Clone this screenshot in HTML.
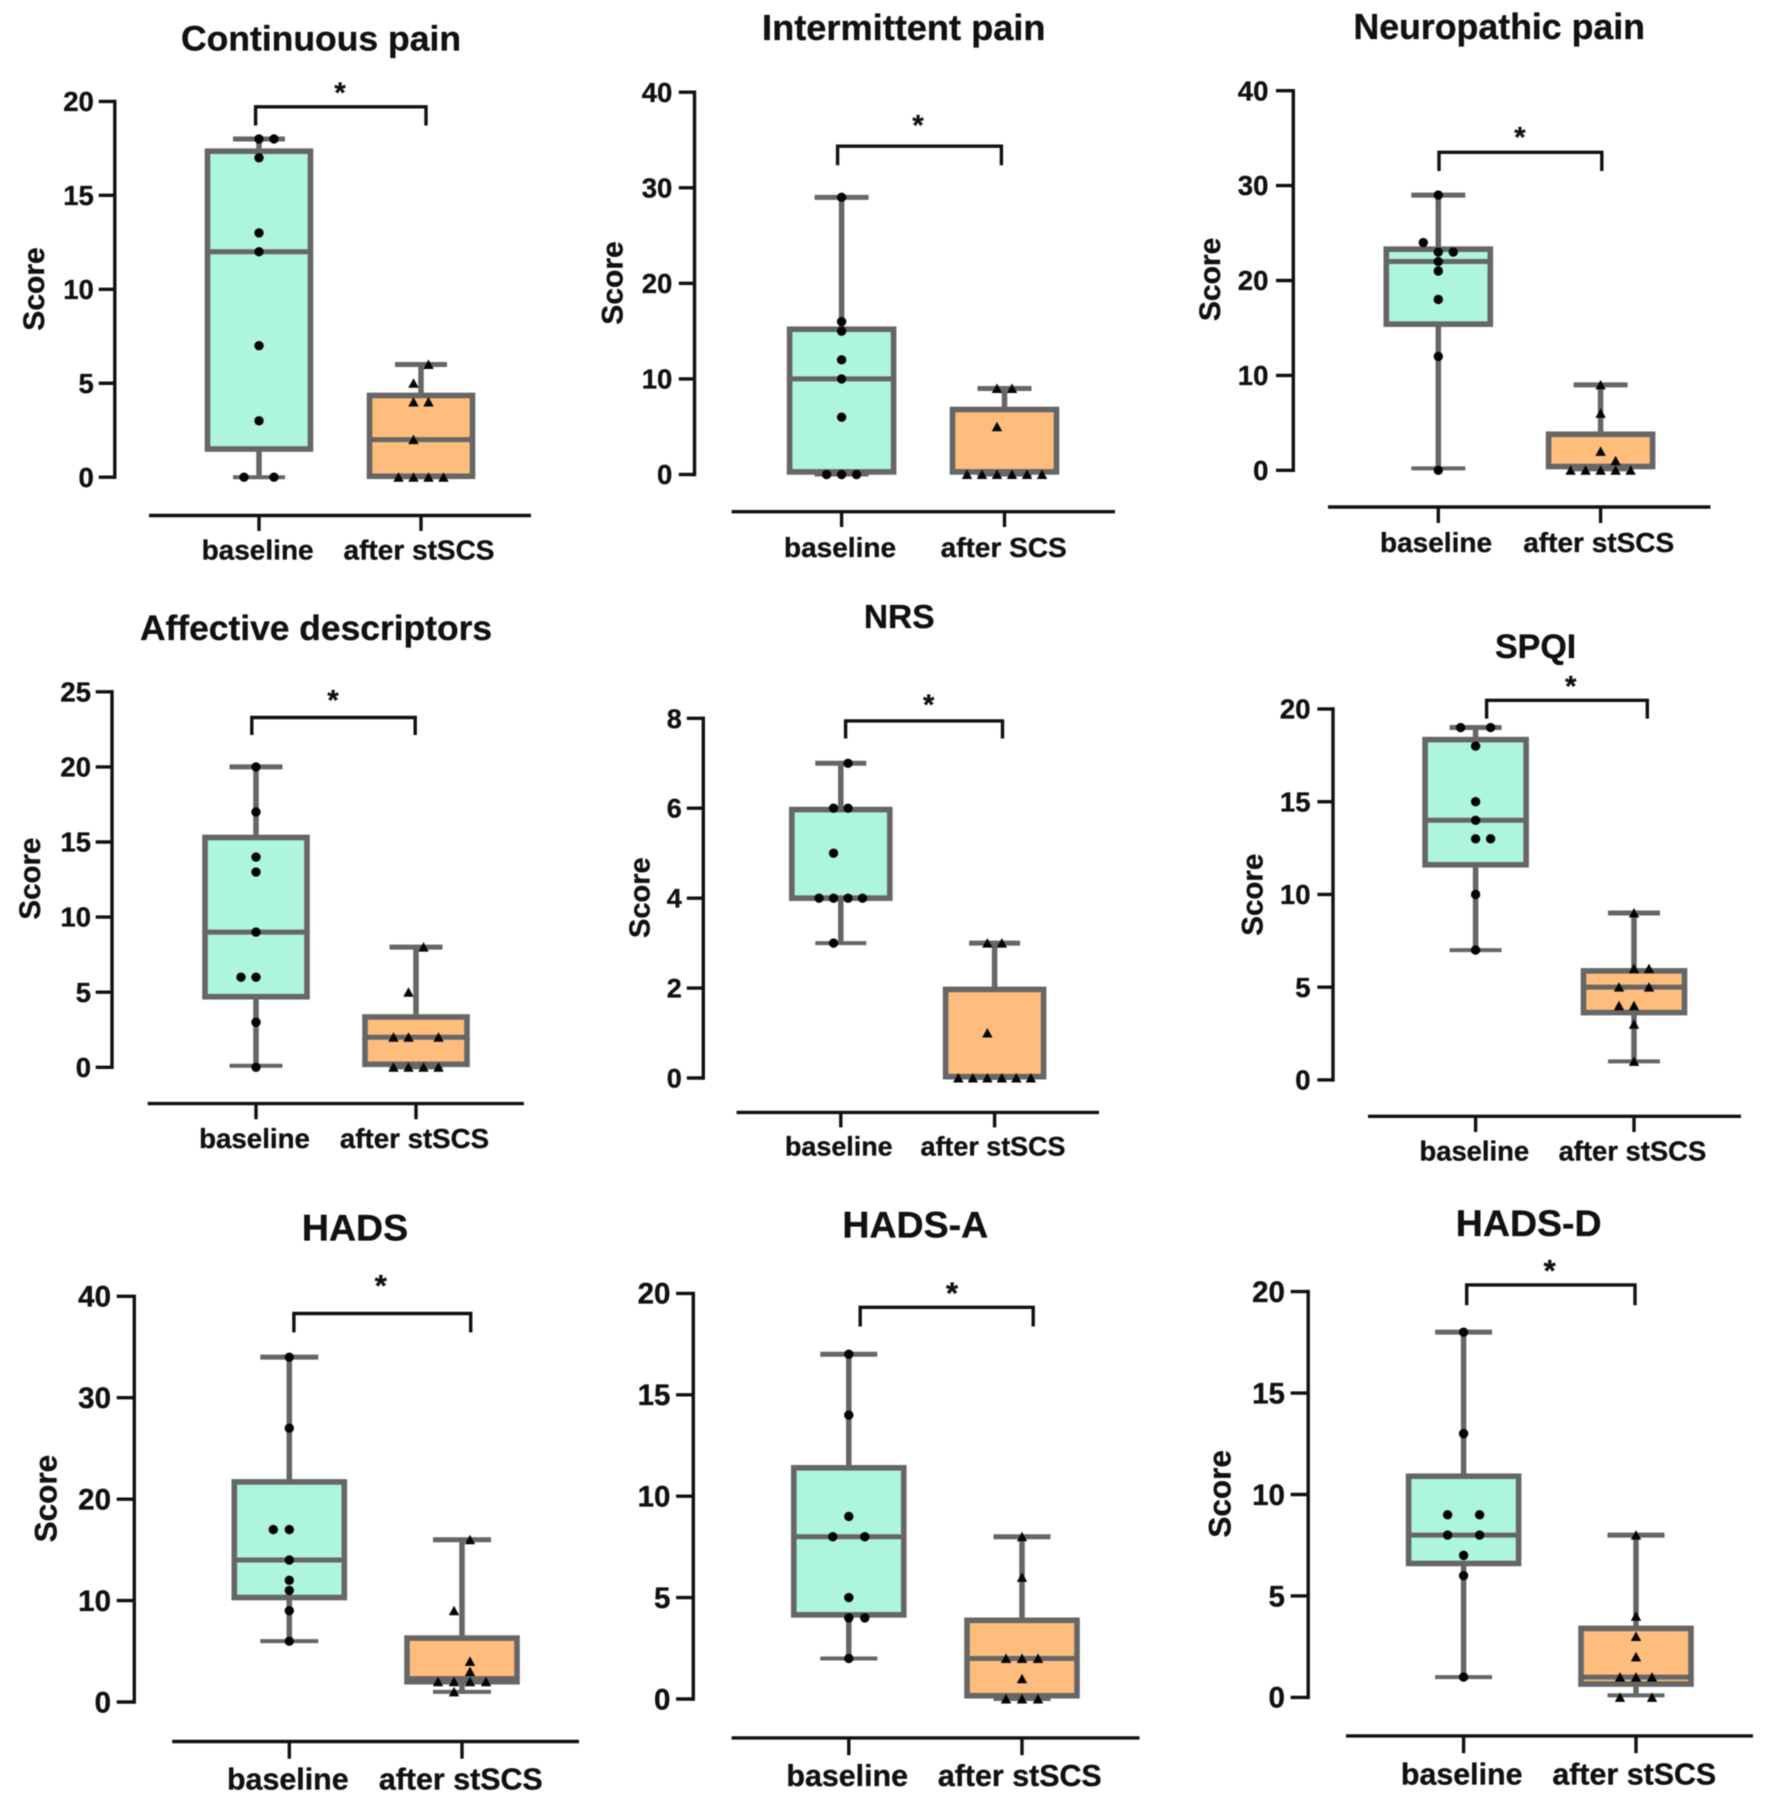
<!DOCTYPE html>
<html lang="en">
<head>
<meta charset="utf-8">
<title>Pain and mood scores at baseline and after stSCS</title>
<style>
  html, body { margin: 0; padding: 0; background: #fff; }
  #figure { display: block; width: 1772px; height: 1816px; filter: blur(0.45px); }
  text { font-family: "Liberation Sans", Arial, sans-serif; font-weight: bold; fill: #111; stroke: #111; stroke-width: 0.35px; }
</style>
</head>
<body>
<svg id="figure" xmlns="http://www.w3.org/2000/svg" width="1772" height="1816" viewBox="0 0 1772 1816">
  <rect x="0" y="0" width="1772" height="1816" fill="#ffffff"/>

  <g id="panel-0">
    <text x="321" y="50.5" font-size="35.5" text-anchor="middle">Continuous pain</text>
    <text transform="translate(44 289) rotate(-90)" font-size="30" text-anchor="middle">Score</text>
    <text x="340" y="102.5" font-size="29" text-anchor="middle">*</text>
  </g>
  <g id="panel-1">
    <text x="903.8" y="39.9" font-size="36.2" text-anchor="middle">Intermittent pain</text>
    <text transform="translate(622.5 283) rotate(-90)" font-size="30" text-anchor="middle">Score</text>
    <text x="918" y="135" font-size="29" text-anchor="middle">*</text>
  </g>
  <g id="panel-2">
    <text x="1499.2" y="38.8" font-size="35.7" text-anchor="middle">Neuropathic pain</text>
    <text transform="translate(1219.8 279.4) rotate(-90)" font-size="30" text-anchor="middle">Score</text>
    <text x="1519.9" y="147.2" font-size="29" text-anchor="middle">*</text>
  </g>
  <g id="panel-3">
    <text x="316" y="639.9" font-size="35.4" text-anchor="middle">Affective descriptors</text>
    <text transform="translate(40.2 878.6) rotate(-90)" font-size="29.5" text-anchor="middle">Score</text>
    <text x="333" y="710.1" font-size="29" text-anchor="middle">*</text>
  </g>
  <g id="panel-4">
    <text x="899.2" y="628" font-size="33.5" text-anchor="middle">NRS</text>
    <text transform="translate(649.3 897.7) rotate(-90)" font-size="29" text-anchor="middle">Score</text>
    <text x="928.7" y="714.7" font-size="29" text-anchor="middle">*</text>
  </g>
  <g id="panel-5">
    <text x="1535.6" y="657.9" font-size="34" text-anchor="middle">SPQI</text>
    <text transform="translate(1262.7 894.7) rotate(-90)" font-size="29.5" text-anchor="middle">Score</text>
    <text x="1570.8" y="695.9" font-size="29" text-anchor="middle">*</text>
  </g>
  <g id="panel-6">
    <text x="355" y="1240.5" font-size="37.5" text-anchor="middle">HADS</text>
    <text transform="translate(56.3 1498.6) rotate(-90)" font-size="31.5" text-anchor="middle">Score</text>
    <text x="380.8" y="1296" font-size="31" text-anchor="middle">*</text>
  </g>
  <g id="panel-7">
    <text x="915.3" y="1237.4" font-size="37.5" text-anchor="middle">HADS-A</text>
    <text x="952" y="1303.3" font-size="31" text-anchor="middle">*</text>
  </g>
  <g id="panel-8">
    <text x="1528.7" y="1236.1" font-size="37.5" text-anchor="middle">HADS-D</text>
    <text transform="translate(1230.6 1493.9) rotate(-90)" font-size="31.5" text-anchor="middle">Score</text>
    <text x="1549.7" y="1281.2" font-size="31" text-anchor="middle">*</text>
  </g>
</svg>

<script>
// ---- chart data (one entry per panel, left-to-right, top-to-bottom) ----
const yTicks = [
  [0, 5, 10, 15, 20],
  [0, 10, 20, 30, 40],
  [0, 10, 20, 30, 40],
  [0, 5, 10, 15, 20, 25],
  [0, 2, 4, 6, 8],
  [0, 5, 10, 15, 20],
  [0, 10, 20, 30, 40],
  [0, 5, 10, 15, 20],
  [0, 5, 10, 15, 20]
];
const categories = [
  ['baseline', 'after stSCS'],
  ['baseline', 'after SCS'],
  ['baseline', 'after stSCS'],
  ['baseline', 'after stSCS'],
  ['baseline', 'after stSCS'],
  ['baseline', 'after stSCS'],
  ['baseline', 'after stSCS'],
  ['baseline', 'after stSCS'],
  ['baseline', 'after stSCS']
];
// five-number summaries: min, q1, median, q3, max
const baselineBox = [
  [0, 1.5, 12, 17.35, 18],
  [0, 0.27, 10, 15.2, 29],
  [0.2, 15.4, 22, 23.3, 29],
  [0.1, 4.7, 9, 15.3, 20],
  [3, 4, 4, 5.97, 7],
  [7, 11.6, 14, 18.35, 19],
  [6, 10.3, 14, 21.7, 34],
  [2, 4.15, 8, 11.4, 17],
  [1, 6.6, 8, 10.9, 18]
];
const afterBox = [
  [0, 0.05, 2, 4.35, 6],
  [0, 0.27, 0.27, 6.8, 9],
  [0.1, 0.4, 0.4, 3.8, 9],
  [0, 0.2, 2, 3.35, 8],
  [0, 0.03, 0.03, 1.97, 3],
  [1, 3.63, 5, 5.88, 9],
  [1, 2, 2.3, 6.3, 16],
  [0, 0.16, 2, 3.88, 8],
  [0.1, 0.66, 1, 3.4, 8]
];
// individual subjects
const baselineValues = [
  [18, 18, 17, 13, 12, 7, 3, 0, 0],
  [29, 16, 15, 12, 10, 6, 0, 0, 0],
  [29, 24, 23, 23, 22, 21, 18, 12, 0],
  [20, 17, 14, 13, 9, 6, 6, 3, 0],
  [7, 6, 6, 5, 4, 4, 4, 4, 3],
  [19, 19, 18, 15, 14, 13, 13, 10, 7],
  [34, 27, 17, 17, 14, 12, 11, 9, 6],
  [17, 14, 9, 8, 8, 5, 4, 4, 2],
  [18, 13, 9, 9, 8, 8, 7, 6, 1]
];
const afterValues = [
  [6, 5, 4, 4, 2, 0, 0, 0, 0],
  [9, 9, 5, 0, 0, 0, 0, 0, 0],
  [9, 6, 2, 1, 0, 0, 0, 0, 0],
  [8, 5, 2, 2, 2, 0, 0, 0, 0],
  [3, 3, 1, 0, 0, 0, 0, 0, 0],
  [9, 6, 6, 5, 5, 4, 4, 3, 1],
  [16, 9, 4, 3, 2, 2, 2, 2, 1],
  [8, 6, 2, 2, 2, 1, 0, 0, 0],
  [8, 4, 3, 2, 1, 1, 1, 0, 0]
];
// beeswarm column of each subject, in marker widths from the box centre
const baselineColumns = [
  [0, 1, 0, 0, 0, 0, 0, -1, 1],
  [0, 0, 0, 0, 0, 0, -1, 0, 1],
  [0, -1, 0, 1, 0, 0, 0, 0, 0],
  [0, 0, 0, 0, 0, -1, 0, 0, 0],
  [0.5, -0.5, 0.5, -0.5, -1.5, -0.5, 0.5, 1.5, -0.5],
  [-1, 1, 0, 0, 0, 0, 1, 0, 0],
  [0, 0, -1, 0, 0, 0, 0, 0, 0],
  [0, 0, 0, -1, 1, 0, 0, 1, 0],
  [0, 0, -1, 1, -1, 1, 0, 0, 0]
];
const afterColumns = [
  [0.5, -0.5, -0.5, 0.5, -0.5, -1.5, -0.5, 0.5, 1.5],
  [-0.5, 0.5, -0.5, -2.5, -1.5, -0.5, 0.5, 1.5, 2.5],
  [0, 0, 0, 1, -2, -1, 0, 1, 2],
  [0.5, -0.5, -1.5, -0.5, 1.5, -1.5, -0.5, 0.5, 1.5],
  [-0.5, 0.5, -0.5, -2.5, -1.5, -0.5, 0.5, 1.5, 2.5],
  [0, 0, 1, -1, 1, -1, 0, 0, 0],
  [0.5, -0.5, 0.5, 0.5, -1.5, -0.5, 0.5, 1.5, -0.5],
  [0, 0, -1, 0, 1, 0, -1, 0, 1],
  [0, 0, 0, 0, -1, 0, 1, -1, 1]
];

// ---- layout (panel geometry, not data) ----
const panelLayouts = [
  { axisX: 114.8, yTop: 101.4, yZero: 477.2, tickLeft: 98.7, tickRight: 93.8, tickFont: 27.5, floorY: 515.5, floorL: 149, floorR: 531, c1: 259, c2: 421, floorTick: 531, boxW: 103, capW: 52, step: 15, brL: 255.6, brR: 426, brTop: 106.8, brBot: 125.5, labelY: 559.5, l1: 257.6, l2: 419, labelFont: 28 },
  { axisX: 694.5, yTop: 92.2, yZero: 474.5, tickLeft: 678.8, tickRight: 672.3, tickFont: 27.5, floorY: 511.7, floorL: 731.6, floorR: 1115, c1: 841.6, c2: 1004.5, floorTick: 527, boxW: 104, capW: 54, step: 15, brL: 837.6, brR: 1001.4, brTop: 146.2, brBot: 165.3, labelY: 556.8, l1: 840, l2: 1003.7, labelFont: 28 },
  { axisX: 1293.3, yTop: 90.7, yZero: 470.3, tickLeft: 1276, tickRight: 1268.4, tickFont: 27.5, floorY: 507, floorL: 1328, floorR: 1710.5, c1: 1438.3, c2: 1600.6, floorTick: 523, boxW: 104, capW: 54, step: 15, brL: 1439, brR: 1601.8, brTop: 152.3, brBot: 171, labelY: 552.2, l1: 1436, l2: 1598.7, labelFont: 28 },
  { axisX: 112, yTop: 691.8, yZero: 1067.3, tickLeft: 95.7, tickRight: 91, tickFont: 27.5, floorY: 1103.6, floorL: 147.7, floorR: 523.9, c1: 256, c2: 416, floorTick: 1119.3, boxW: 102, capW: 53, step: 15, brL: 251.8, brR: 415.2, brTop: 717.5, brBot: 735, labelY: 1148, l1: 254.5, l2: 414.5, labelFont: 27.7 },
  { axisX: 703.3, yTop: 718.3, yZero: 1078, tickLeft: 686.8, tickRight: 681.8, tickFont: 27, floorY: 1112.4, floorL: 736.6, floorR: 1099, c1: 840.8, c2: 994.6, floorTick: 1127.4, boxW: 98, capW: 51, step: 14.5, brL: 845.6, brR: 1002.5, brTop: 720.9, brBot: 738.5, labelY: 1155.7, l1: 838.8, l2: 993, labelFont: 26.9 },
  { axisX: 1333, yTop: 709, yZero: 1079.9, tickLeft: 1317.4, tickRight: 1310.5, tickFont: 27.5, floorY: 1116.3, floorL: 1368, floorR: 1741, c1: 1475.6, c2: 1634, floorTick: 1132, boxW: 101, capW: 52, step: 15, brL: 1486.6, brR: 1647.3, brTop: 700.3, brBot: 718.6, labelY: 1160.6, l1: 1474.3, l2: 1632.4, labelFont: 27.4 },
  { axisX: 134.3, yTop: 1296.3, yZero: 1702, tickLeft: 116.7, tickRight: 111, tickFont: 29.5, floorY: 1741.5, floorL: 172.2, floorR: 579, c1: 289.3, c2: 462, floorTick: 1758.7, boxW: 110, capW: 58, step: 16, brL: 293.9, brR: 470.7, brTop: 1313.5, brBot: 1332.4, labelY: 1789.3, l1: 287.8, l2: 460.8, labelFont: 30.4 },
  { axisX: 693.3, yTop: 1293.4, yZero: 1699, tickLeft: 676.1, tickRight: 670.4, tickFont: 29.5, floorY: 1737.9, floorL: 731.6, floorR: 1139.5, c1: 848.8, c2: 1022, floorTick: 1755.2, boxW: 110, capW: 57, step: 16, brL: 860.2, brR: 1033.2, brTop: 1307.3, brBot: 1326.5, labelY: 1786.2, l1: 847.2, l2: 1019.8, labelFont: 30.4 },
  { axisX: 1308.2, yTop: 1291.6, yZero: 1697.4, tickLeft: 1290.6, tickRight: 1284.9, tickFont: 29.5, floorY: 1735.9, floorL: 1346, floorR: 1753, c1: 1463.6, c2: 1636, floorTick: 1753.2, boxW: 110, capW: 57, step: 16, brL: 1466.7, brR: 1635, brTop: 1284.9, brBot: 1305.3, labelY: 1784.7, l1: 1461.7, l2: 1634.3, labelFont: 30.4 }
];

const SVG_NS = 'http://www.w3.org/2000/svg';
const INK = '#111111';
const BOX_GREY = '#666666';
const MINT = '#aef5de';
const ORANGE = '#febd7c';

function svgEl(parent, tag, props) {
  const node = document.createElementNS(SVG_NS, tag);
  Object.keys(props).forEach(function (k) { node.setAttribute(k, props[k]); });
  parent.appendChild(node);
  return node;
}

function yScale(layout, ticks) {
  const yMax = ticks[ticks.length - 1];
  return function (v) { return layout.yZero - (v / yMax) * (layout.yZero - layout.yTop); };
}

function drawAxes(group, layout, ticks, labels, y) {
  const axis = svgEl(group, 'line', { x1: layout.axisX, x2: layout.axisX, y1: layout.yTop - 1.7, y2: layout.yZero + 1.7, stroke: INK, 'stroke-width': 3.4 });
  
  
  ticks.forEach(function (t) {
    const tick = svgEl(group, 'line', { x1: layout.tickLeft, x2: layout.axisX, y1: y(t), y2: y(t), stroke: INK, 'stroke-width': 3.4 });
    
    
    const label = svgEl(group, 'text', { x: layout.tickRight, y: y(t) + layout.tickFont * 0.35, 'font-size': layout.tickFont, 'text-anchor': 'end' });
    label.textContent = String(t);
    
    
  });
  const floor = svgEl(group, 'line', { x1: layout.floorL, x2: layout.floorR, y1: layout.floorY, y2: layout.floorY, stroke: INK, 'stroke-width': 3.4 });
  
  
  [layout.c1, layout.c2].forEach(function (cx, i) {
    const tick = svgEl(group, 'line', { x1: cx, x2: cx, y1: layout.floorY, y2: layout.floorTick, stroke: INK, 'stroke-width': 3.4 });
    
    
    const label = svgEl(group, 'text', { x: i === 0 ? layout.l1 : layout.l2, y: layout.labelY, 'font-size': layout.labelFont, 'text-anchor': 'middle' });
    label.textContent = labels[i];
    
    
  });
}

function drawBox(group, layout, cx, stats, fill, y, seriesName) {
  const half = layout.boxW / 2;
  const capHalf = layout.capW / 2;
  const low = stats[0], q1 = stats[1], med = stats[2], q3 = stats[3], high = stats[4];

  const upper = svgEl(group, 'line', { x1: cx, x2: cx, y1: y(q3), y2: y(high), stroke: BOX_GREY, 'stroke-width': 5.5 });
  
  
  const lower = svgEl(group, 'line', { x1: cx, x2: cx, y1: y(q1), y2: y(low), stroke: BOX_GREY, 'stroke-width': 5.5 });
  
  
  const capTop = svgEl(group, 'line', { x1: cx - capHalf, x2: cx + capHalf, y1: y(high), y2: y(high), stroke: BOX_GREY, 'stroke-width': 5 });
  
  
  const capBottom = svgEl(group, 'line', { x1: cx - capHalf, x2: cx + capHalf, y1: y(low), y2: y(low), stroke: BOX_GREY, 'stroke-width': 4 });
  
  
  const box = svgEl(group, 'rect', { x: cx - half, width: layout.boxW, y: y(q3), height: y(q1) - y(q3), fill: fill, stroke: BOX_GREY, 'stroke-width': 5.6 });
  
  
  const median = svgEl(group, 'line', { x1: cx - half, x2: cx + half, y1: y(med), y2: y(med), stroke: BOX_GREY, 'stroke-width': 5 });
  
  
}

function drawCircles(group, layout, cx, values, columns, y) {
  values.forEach(function (v, i) {
    const dot = svgEl(group, 'circle', { cx: cx + columns[i] * layout.step, cy: y(v), r: 4.7, fill: '#050505' });
    
    
  });
}

function drawTriangles(group, layout, cx, values, columns, y) {
  values.forEach(function (v, i) {
    const px = cx + columns[i] * layout.step;
    const py = y(v);
    const tri = svgEl(group, 'polygon', { points: (px - 5.2) + ',' + (py + 4.5) + ' ' + (px + 5.2) + ',' + (py + 4.5) + ' ' + px + ',' + (py - 5), fill: '#050505' });
    
    
  });
}

function drawBracket(group, layout) {
  const path = 'M' + layout.brL + ' ' + layout.brBot + 'V' + layout.brTop + 'H' + layout.brR + 'V' + layout.brBot;
  const bracket = svgEl(group, 'path', { d: path, fill: 'none', stroke: INK, 'stroke-width': 3.4 });
  
  
}

panelLayouts.forEach(function (layout, p) {
  const group = document.getElementById('panel-' + p);
  const y = yScale(layout, yTicks[p]);
  drawAxes(group, layout, yTicks[p], categories[p], y);
  drawBracket(group, layout);
  drawBox(group, layout, layout.c1, baselineBox[p], MINT, y, 'baseline');
  drawBox(group, layout, layout.c2, afterBox[p], ORANGE, y, 'after-treatment');
  drawCircles(group, layout, layout.c1, baselineValues[p], baselineColumns[p], y);
  drawTriangles(group, layout, layout.c2, afterValues[p], afterColumns[p], y);
});
</script>
</body>
</html>
